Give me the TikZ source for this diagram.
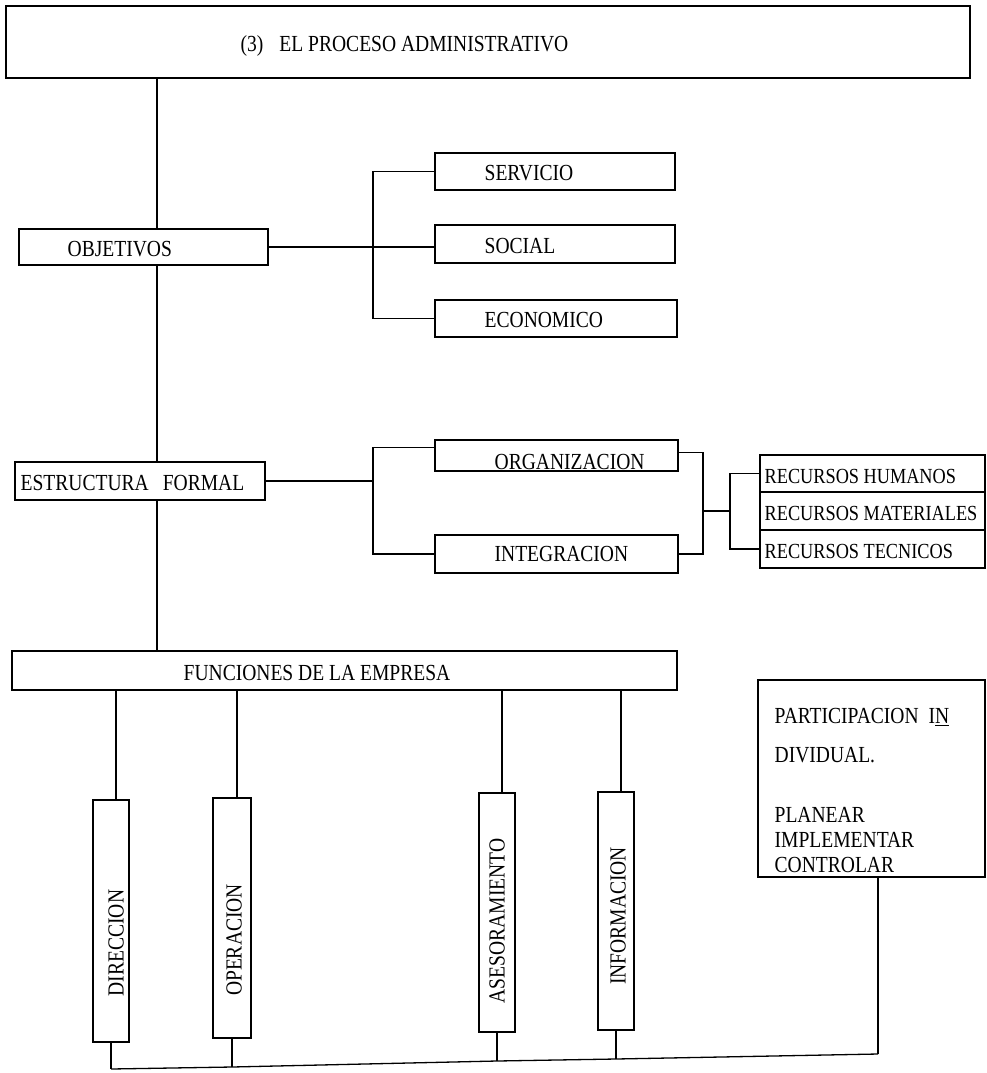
\documentclass[tikz,border=0pt]{standalone}
\usepackage{fontspec}
\setmainfont{Liberation Serif}[FakeStretch=0.85]
\usetikzlibrary{fit}
\begin{document}
\begin{tikzpicture}[x=1pt,y=-1pt,line width=1.3pt,
  box/.style={draw,inner sep=0pt,line width=1.3pt},
  txt/.style={inner sep=0pt,anchor=west,font=\fontsize{23}{25}\selectfont},
  rtxt/.style={inner sep=0pt,anchor=west,font=\fontsize{21.5}{23}\selectfont},
  vtxt/.style={inner sep=0pt,rotate=90,font=\fontsize{23}{25}\selectfont},
  conn/.style={draw,line width=1.3pt}]
\useasboundingbox[fill=white] (0,0) rectangle (987,1073);

% boxes
\node[box,fit={(6,6) (970,78)}] (title) {};
\node[box,fit={(19,229) (268,265)}] (obj) {};
\node[box,fit={(435,153) (675,190)}] (ser) {};
\node[box,fit={(435,225) (675,263)}] (soc) {};
\node[box,fit={(435,300) (677,337)}] (eco) {};
\node[box,fit={(15,462) (265,500)}] (est) {};
\node[box,fit={(435,440) (678,471)}] (org) {};
\node[box,fit={(435,535) (678,573)}] (int) {};
\node[box,fit={(760,455) (985,492)}] (rh) {};
\node[box,fit={(760,492) (985,530)}] (rm) {};
\node[box,fit={(760,530) (985,568)}] (rt) {};
\node[box,fit={(12,651) (677,690)}] (fun) {};
\node[box,fit={(93,800) (129,1042)}] (dir) {};
\node[box,fit={(213,798) (251,1038)}] (ope) {};
\node[box,fit={(479,793) (515,1032)}] (ase) {};
\node[box,fit={(598,792) (634,1030)}] (inf) {};
\node[box,fit={(758,680) (985,877)}] (part) {};

% texts
\node[txt] (tTitle) at (240,46) {(3)\hspace{16pt}EL PROCESO ADMINISTRATIVO};
\node[txt] (tObj) at (67,249) {OBJETIVOS};
\node[txt] (tSer) at (484,173) {SERVICIO};
\node[txt] (tSoc) at (484,246) {SOCIAL};
\node[txt] (tEco) at (484,320) {ECONOMICO};
\node[txt] (tEst) at (20,483) {ESTRUCTURA\hspace{14pt}FORMAL};
\node[txt] (tOrg) at (494,462) {ORGANIZACION};
\node[txt] (tInt) at (494,554) {INTEGRACION};
\node[rtxt] (tRh) at (764,476) {RECURSOS HUMANOS};
\node[rtxt] (tRm) at (764,513) {RECURSOS MATERIALES};
\node[rtxt] (tRt) at (764,551) {RECURSOS TECNICOS};
\node[txt] (tFun) at (183,673) {FUNCIONES DE LA EMPRESA};
\node[vtxt] (tDir) at (116,943) {DIRECCION};
\node[vtxt] (tOpe) at (234,940) {OPERACION};
\node[vtxt] (tAse) at (497,921) {ASESORAMIENTO};
\node[vtxt] (tInf) at (618,916) {INFORMACION};
\node[txt] (tP1) at (774,717) {PARTICIPACION\hspace{10pt}I\underline{N}};
\node[txt] (tP2) at (774,755) {DIVIDUAL.};
\node[txt] (tP3) at (774,815) {PLANEAR};
\node[txt] (tP4) at (774,840) {IMPLEMENTAR};
\node[txt] (tP5) at (774,865) {CONTROLAR};

% helper coordinates
\coordinate (m) at (157,0);
\coordinate (b1) at (373,0);
\coordinate (b2) at (703,0);
\coordinate (b3) at (730,0);
\coordinate (j1) at (111,1069);
\coordinate (j2) at (232,1067);
\coordinate (j3) at (497,1061);
\coordinate (j4) at (616,1059);
\coordinate (j5) at (878,1054);

% main spine
\draw[conn] (title.south -| m) -- (obj.north -| m);
\draw[conn] (obj.south -| m) -- (est.north -| m);
\draw[conn] (est.south -| m) -- (fun.north -| m);

% objetivos bracket
\draw[conn] (obj.east) -- (obj.east -| soc.west);
\draw[conn] (ser.west) -| (b1 |- eco.west) -- (eco.west);

% estructura bracket
\draw[conn] (est.east) -- (est.east -| b1);
\draw[conn] ([yshift=8pt]org.west) -| (b1 |- int.west) -- (int.west);

% right side to recursos
\draw[conn] ([yshift=3pt]org.east) -| (b2 |- int.east) -- (int.east);
\draw[conn] (b2 |- rm.west) -- (b3 |- rm.west);
\draw[conn] (rh.west) -| (b3 |- rt.west) -- (rt.west);

% funciones to vertical boxes
\draw[conn] ([xshift=5pt]dir.north) -- ([xshift=5pt]dir.north |- fun.south);
\draw[conn] ([xshift=5pt]ope.north) -- ([xshift=5pt]ope.north |- fun.south);
\draw[conn] ([xshift=5pt]ase.north) -- ([xshift=5pt]ase.north |- fun.south);
\draw[conn] ([xshift=5pt]inf.north) -- ([xshift=5pt]inf.north |- fun.south);

% bottom collector
\draw[conn] (dir.south) -- (j1);
\draw[conn] (ope.south) -- (j2);
\draw[conn] (ase.south) -- (j3);
\draw[conn] (inf.south) -- (j4);
\draw[conn] ([xshift=6.5pt]part.south) -- (j5);
\draw[conn] (j1) -- (j2) -- (j3) -- (j4) -- (j5);
\end{tikzpicture}
\end{document}
